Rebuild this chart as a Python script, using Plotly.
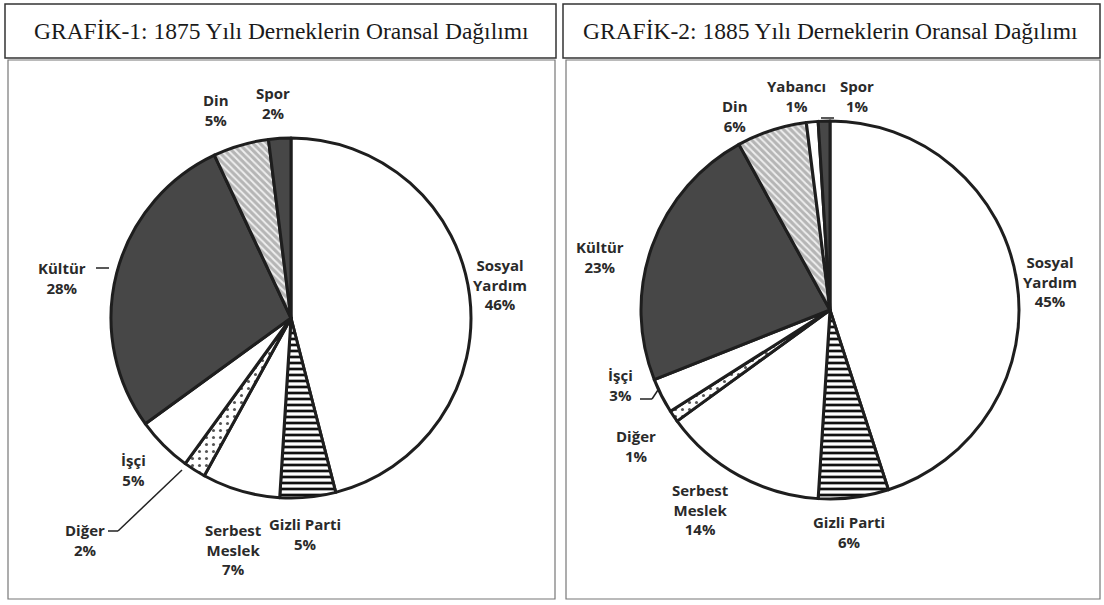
import plotly.graph_objects as go

# ---------------- data ----------------
labels_1875 = ["Sosyal Yardım", "Gizli Parti", "Serbest Meslek", "Diğer", "İşçi", "Kültür", "Din", "Spor"]
values_1875 = [46, 5, 7, 2, 5, 28, 5, 2]

labels_1885 = ["Sosyal Yardım", "Gizli Parti", "Serbest Meslek", "Diğer", "İşçi", "Kültür", "Din", "Yabancı", "Spor"]
values_1885 = [45, 6, 14, 1, 3, 23, 6, 1, 1]

title_1 = "GRAFİK-1: 1875 Yılı Derneklerin Oransal Dağılımı"
title_2 = "GRAFİK-2: 1885 Yılı Derneklerin Oransal Dağılımı"

# ---------------- styles ----------------
W, H = 1104, 605
DARK = "#474747"
style = {
    "Sosyal Yardım": ("white", "", "black", 6, 0.4),
    "Gizli Parti": ("white", "-", "#111111", 6, 0.45),
    "Serbest Meslek": ("white", "", "black", 6, 0.4),
    "Diğer": ("white", ".", "#555555", 7, 0.15),
    "İşçi": ("white", "", "black", 6, 0.4),
    "Kültür": (DARK, "", DARK, 6, 0.4),
    "Din": ("#b5b5b5", "\\", "#eeeeee", 5, 0.4),
    "Yabancı": ("white", "", "black", 6, 0.4),
    "Spor": (DARK, "", DARK, 6, 0.4),
}


def px(x):
    return x / W


def py(y):
    return 1 - y / H


def pie(labels, values, cx, cy, r):
    colors = [style[l][0] for l in labels]
    return go.Pie(
        labels=labels, values=values, sort=False, direction="clockwise", rotation=0,
        textinfo="none", hoverinfo="label+percent", showlegend=False,
        domain=dict(x=[px(cx - r), px(cx + r)], y=[py(cy + r), py(cy - r)]),
        marker=dict(colors=colors, line=dict(color="#1e1e1e", width=3),
                    pattern=dict(shape=[style[l][1] for l in labels],
                                 fgcolor=[style[l][2] for l in labels],
                                 bgcolor=colors,
                                 size=[style[l][3] for l in labels],
                                 solidity=[style[l][4] for l in labels])),
    )


fig = go.Figure()
fig.add_trace(pie(labels_1875, values_1875, 291, 318, 180))
fig.add_trace(pie(labels_1885, values_1885, 830, 310, 189))

# label layout: (x, y of first line, wrap words)
pos_1875 = {
    "Sosyal Yardım": (500, 265, True),
    "Gizli Parti": (305, 524, False),
    "Serbest Meslek": (233, 530, True),
    "Diğer": (85, 530, False),
    "İşçi": (133, 460, False),
    "Kültür": (62, 268, False),
    "Din": (216, 100, False),
    "Spor": (273, 93, False),
}
pos_1885 = {
    "Sosyal Yardım": (1050, 262, True),
    "Gizli Parti": (849, 522, False),
    "Serbest Meslek": (700, 490, True),
    "Diğer": (636, 436, False),
    "İşçi": (620, 375, False),
    "Kültür": (600, 247, False),
    "Din": (735, 106, False),
    "Yabancı": (796, 86, False),
    "Spor": (857, 86, False),
}

annotations = []


def add_labels(labels, values, pos):
    for lab, val in zip(labels, values):
        x, y, wrap = pos[lab]
        name = lab.replace(" ", "<br>") if wrap else lab
        annotations.append(dict(
            x=px(x), y=py(y - 12), xref="paper", yref="paper", xanchor="center", yanchor="top",
            text=f"<b>{name}<br>{val}%</b>", showarrow=False, align="center",
            font=dict(family="Open Sans", size=15, color="#2a2a2a"),
        ))


add_labels(labels_1875, values_1875, pos_1875)
add_labels(labels_1885, values_1885, pos_1885)

for t, cx in ((title_1, 281), (title_2, 830)):
    annotations.append(dict(x=px(cx), y=py(31), xref="paper", yref="paper", showarrow=False,
                            xanchor="center", yanchor="middle",
                            text=t, font=dict(family="Liberation Serif", size=23.5, color="#1a1a1a")))

shapes = []


def rect(x0, y0, x1, y1, w=1.5, c="#333333"):
    shapes.append(dict(type="rect", xref="paper", yref="paper", x0=px(x0), x1=px(x1), y0=py(y1), y1=py(y0),
                       line=dict(color=c, width=w)))


def line(x0, y0, x1, y1, w=1.5):
    shapes.append(dict(type="line", xref="paper", yref="paper", x0=px(x0), x1=px(x1), y0=py(y0), y1=py(y1),
                       line=dict(color="#222222", width=w)))


# title boxes and panels
rect(5, 4, 556, 58, 1.5)
rect(8, 60, 555, 599, 1.2, "#777777")
rect(563, 4, 1100, 58, 1.5)
rect(566, 60, 1100, 599, 1.2, "#777777")

# leader lines
line(96, 268, 109, 268)
line(108, 531, 118, 531)
line(118, 531, 182, 470)
line(821, 118, 834, 118)
line(640, 399, 652, 399)
line(652, 399, 658, 390)

fig.update_layout(
    width=W, height=H, margin=dict(l=0, r=0, t=0, b=0),
    paper_bgcolor="white", plot_bgcolor="white",
    annotations=annotations, shapes=shapes,
)

fig.write_html("out.html", config={"displayModeBar": False},
               post_script="document.body.style.margin='0px';")
